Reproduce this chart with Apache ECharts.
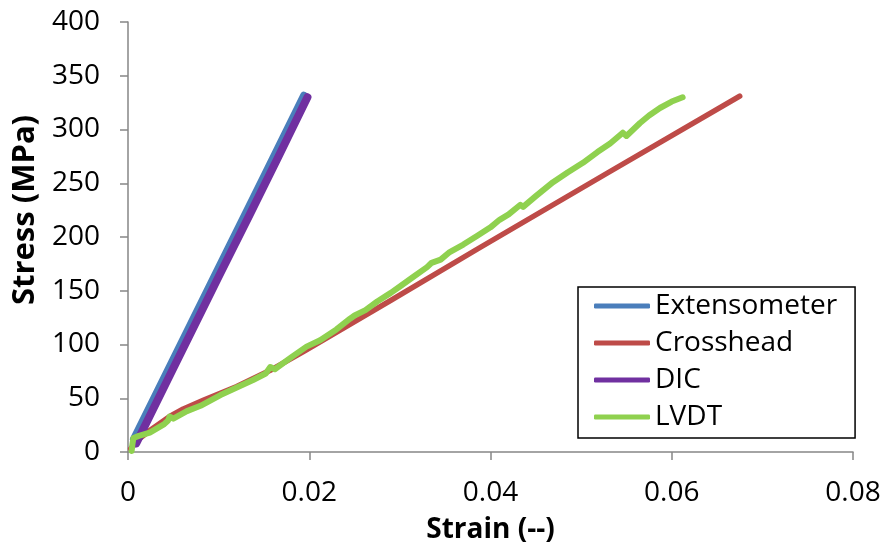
<!DOCTYPE html>
<html>
<head>
<meta charset="utf-8">
<script src="https://cdn.jsdelivr.net/npm/echarts@6/dist/echarts.min.js"></script>
<style>
html,body{margin:0;padding:0;background:#fff;}
#chart{width:886px;height:550px;}
</style>
</head>
<body>
<div id="chart"></div>
<script>
const seriesNames = ["Extensometer", "Crosshead", "DIC", "LVDT"];
const xTicks = [0, 0.02, 0.04, 0.06, 0.08];
const yTicks = [0, 50, 100, 150, 200, 250, 300, 350, 400];

const extStrain = [0.0006, 0.005, 0.010, 0.015, 0.0194];
const extStress = [12, 87, 172, 257, 332];

const crossStrain = [0.0003, 0.0012, 0.0024, 0.0046, 0.0061, 0.0083, 0.012, 0.0157, 0.0195, 0.029, 0.0388, 0.053, 0.0675];
const crossStress = [3, 12, 20, 33, 40, 48, 61, 76, 94, 141, 190, 260, 331];

const dicStrain = [0.0009, 0.005, 0.010, 0.0135, 0.0165, 0.0198];
const dicStress = [8, 78, 163, 222, 273, 330];

const lvdtStrain = [0.0004, 0.0005, 0.0006, 0.0012, 0.0024, 0.0032, 0.0040, 0.0044, 0.0046, 0.0050, 0.0065, 0.0080, 0.0102, 0.0120, 0.0138, 0.0152, 0.0157, 0.0162, 0.0180, 0.0197, 0.0212, 0.0230, 0.0245, 0.0250, 0.0262, 0.0275, 0.0290, 0.0300, 0.0315, 0.0330, 0.0335, 0.0345, 0.0355, 0.0370, 0.0385, 0.0400, 0.0410, 0.0420, 0.0433, 0.0436, 0.0450, 0.0469, 0.0485, 0.0502, 0.0518, 0.0532, 0.0546, 0.0550, 0.0565, 0.0575, 0.0587, 0.0600, 0.0612];
const lvdtStress = [1, 8, 13, 15, 18, 22, 26, 29, 33, 31, 38, 43, 53, 60, 67, 73, 79, 77, 88, 98, 104, 114, 124, 127, 132, 140, 148, 154, 163, 172, 176, 179, 186, 193, 201, 209, 216, 221, 230, 228, 238, 251, 260, 269, 279, 287, 297, 294, 306, 313, 320, 326, 330];

const colors = ["#4A7EBB", "#BE4B48", "#7030A0", "#8FD14F"];
const widths = [7, 5.5, 8, 6];

function zip(a, b) { return a.map((v, i) => [v, b[i]]); }
const dataSets = [zip(extStrain, extStress), zip(crossStrain, crossStress), zip(dicStrain, dicStress), zip(lvdtStrain, lvdtStress)];

const font = "'Open Sans', sans-serif";
const chart = echarts.init(document.getElementById('chart'), null, {renderer: 'canvas'});
chart.setOption({
  animation: false,
  backgroundColor: '#fff',
  grid: {left: 128, right: 33, top: 22, bottom: 98, containLabel: false, outerBoundsMode: 'none'},
  xAxis: {
    type: 'value', min: 0, max: 0.08, interval: 0.02,
    name: 'Strain (--)', nameLocation: 'middle', nameGap: 64, nameMoveOverlap: false,
    nameTextStyle: {fontFamily: font, fontSize: 28, fontWeight: 'bold', color: '#000', lineHeight: 28},
    axisLine: {show: true, lineStyle: {color: '#868686', width: 1.5}},
    axisTick: {show: true, length: 8, inside: false, lineStyle: {color: '#868686', width: 1.5}},
    splitLine: {show: false},
    axisLabel: {fontFamily: font, fontSize: 28, color: '#000', margin: 27,
      formatter: v => { const t = xTicks.find(x => Math.abs(x - v) < 1e-9); return String(t !== undefined ? t : v); }}
  },
  yAxis: {
    type: 'value', min: 0, max: 400, interval: 50,
    name: 'Stress (MPa)', nameLocation: 'middle', nameGap: 88, nameRotate: 90, nameMoveOverlap: false,
    nameTextStyle: {fontFamily: font, fontSize: 31, fontWeight: 'bold', color: '#000', lineHeight: 30, padding: [0, 0, 0, 54]},
    axisLine: {show: true, lineStyle: {color: '#868686', width: 1.5}},
    axisTick: {show: true, length: 8, inside: false, lineStyle: {color: '#868686', width: 1.5}},
    splitLine: {show: false},
    axisLabel: {fontFamily: font, fontSize: 28, color: '#000', margin: 28,
      formatter: v => String(yTicks.find(y => y === v) ?? v)}
  },
  legend: {
    orient: 'vertical', left: 578, top: 287,
    padding: [5, 18, 7, 16], itemGap: 9,
    itemWidth: 56, itemHeight: 5, icon: 'roundRect',
    borderColor: '#000', borderWidth: 1.5, borderRadius: 0,
    backgroundColor: '#fff',
    textStyle: {fontFamily: font, fontSize: 28, color: '#000', lineHeight: 28, padding: [0, 0, 0, 0]},
    data: seriesNames.map((n, i) => ({name: n, itemStyle: {color: colors[i]}}))
  },
  series: seriesNames.map((n, i) => ({
    name: n, type: 'line', data: dataSets[i], showSymbol: false, symbol: 'none',
    smooth: false, z: 2 + i,
    lineStyle: {color: colors[i], width: widths[i], cap: 'round', join: 'round'},
    itemStyle: {color: colors[i]}
  }))
});
</script>
</body>
</html>
